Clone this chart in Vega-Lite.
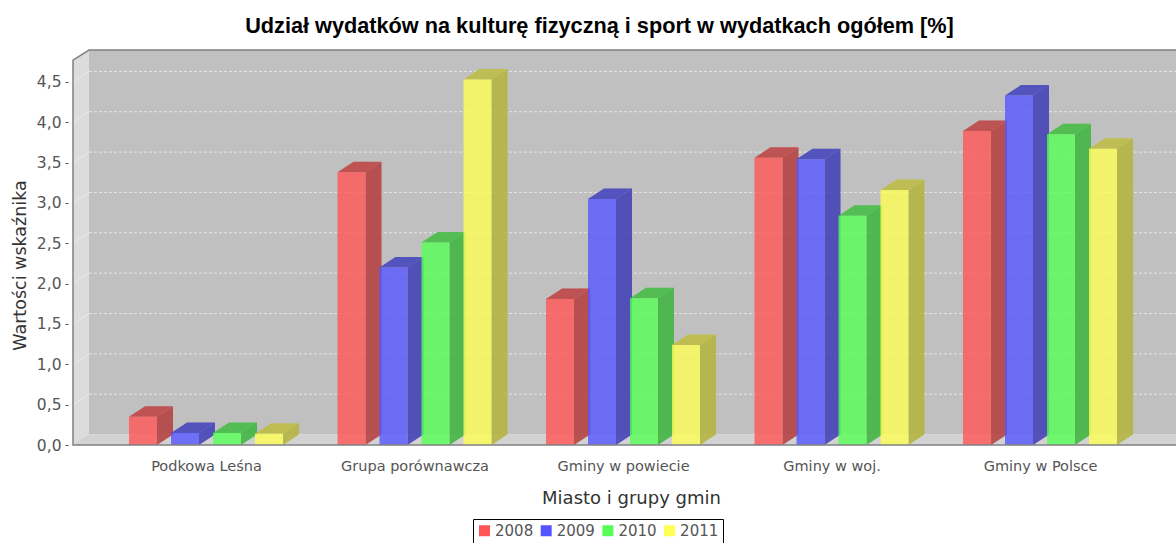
{"$schema":"https://vega.github.io/schema/vega-lite/v6.json","width":1103,"height":395,"autosize":{"type":"none"},"padding":{"left":73,"top":50,"right":0,"bottom":98},"background":"white","view":{"stroke":null},
"title":{"text":"Udział wydatków na kulturę fizyczną i sport w wydatkach ogółem [%]","font":"Liberation Sans","fontSize":21.7,"fontWeight":"bold","color":"#000000","anchor":"middle","frame":"group","dx":-25,"offset":9},
"datasets":{"bars":[
{"group":"Podkowa Leśna","year":"2008","value":0.35},{"group":"Podkowa Leśna","year":"2009","value":0.15},{"group":"Podkowa Leśna","year":"2010","value":0.15},{"group":"Podkowa Leśna","year":"2011","value":0.14},
{"group":"Grupa porównawcza","year":"2008","value":3.38},{"group":"Grupa porównawcza","year":"2009","value":2.2},{"group":"Grupa porównawcza","year":"2010","value":2.51},{"group":"Grupa porównawcza","year":"2011","value":4.53},
{"group":"Gminy w powiecie","year":"2008","value":1.81},{"group":"Gminy w powiecie","year":"2009","value":3.05},{"group":"Gminy w powiecie","year":"2010","value":1.82},{"group":"Gminy w powiecie","year":"2011","value":1.24},
{"group":"Gminy w woj.","year":"2008","value":3.56},{"group":"Gminy w woj.","year":"2009","value":3.54},{"group":"Gminy w woj.","year":"2010","value":2.84},{"group":"Gminy w woj.","year":"2011","value":3.16},
{"group":"Gminy w Polsce","year":"2008","value":3.89},{"group":"Gminy w Polsce","year":"2009","value":4.33},{"group":"Gminy w Polsce","year":"2010","value":3.85},{"group":"Gminy w Polsce","year":"2011","value":3.67}],
"grid":[{"v":0.5},{"v":1},{"v":1.5},{"v":2},{"v":2.5},{"v":3},{"v":3.5},{"v":4},{"v":4.5}],
"frame":[{"k":0},{"k":1},{"k":2},{"k":3},{"k":4}],
"one":[{"part":"wall"}]},
"encoding":{
"x":{"field":"px","type":"quantitative","scale":{"domain":[0,5.29],"nice":false,"zero":false},"title":"Miasto i grupy gmin","axis":{"values":[0.638,1.638,2.638,3.638,4.638],"labelExpr":"['Podkowa Leśna','Grupa porównawcza','Gminy w powiecie','Gminy w woj.','Gminy w Polsce'][round(datum.value-0.638)]","domain":false,"ticks":false,"grid":false,"labelFont":"DejaVu Sans","labelFontSize":14.5,"labelColor":"#555555","labelPadding":14,"labelOverlap":false,"labelFlush":false,"labelBound":false,"titleFont":"DejaVu Sans","titleFontSize":18,"titleFontWeight":"normal","titleColor":"#333333","titleX":558,"titleY":58,"titleBaseline":"alphabetic"}},
"y":{"field":"py","type":"quantitative","scale":{"domain":[0,4.895],"nice":false,"zero":false},"title":"Wartości wskaźnika","axis":{"values":[0,0.5,1,1.5,2,2.5,3,3.5,4,4.5],"labelExpr":"replace(format(datum.value,'.1f'),'.',',')","domain":false,"grid":false,"offset":5,"tickSize":3,"tickColor":"#555555","labelFont":"DejaVu Sans","labelFontSize":15.5,"labelColor":"#555555","labelPadding":4,"titleFont":"DejaVu Sans","titleFontSize":17.5,"titleFontWeight":"normal","titleColor":"#333333","titleX":-39,"titleY":215,"titleAngle":-90}}},
"layer":[
{"data":{"name":"one"},"transform":[{"calculate":"0.0767","as":"px"},{"calculate":"5.29","as":"px2"},{"calculate":"0.13","as":"py"},{"calculate":"4.895","as":"py2"}],"mark":{"type":"rect","fill":"#c0c0c0"},"encoding":{"x2":{"field":"px2"},"y2":{"field":"py2"}}},
{"data":{"name":"one"},"transform":[{"calculate":"0","as":"px"},{"calculate":"5.29","as":"px2"},{"calculate":"0","as":"py"},{"calculate":"0.13","as":"py2"}],"mark":{"type":"rect","fill":"#d2d2d2"},"encoding":{"x2":{"field":"px2"},"y2":{"field":"py2"}}},
{"data":{"name":"one"},"transform":[{"calculate":"[0,1]","as":"k"},{"flatten":["k"]},{"calculate":"datum.k*0.0767","as":"px"},{"calculate":"4.77+datum.k*0.125","as":"py"},{"calculate":"datum.k*0.13","as":"py2"}],"mark":{"type":"area","fill":"#dcdcdc"},"encoding":{"y2":{"field":"py2"}}},
{"data":{"name":"grid"},"transform":[{"calculate":"0.0767","as":"px"},{"calculate":"5.29","as":"px2"},{"calculate":"datum.v+0.13","as":"py"}],"mark":{"type":"rule","stroke":"#ffffff","strokeWidth":1,"strokeDash":[3,2],"opacity":0.6},"encoding":{"x2":{"field":"px2"}}},
{"data":{"name":"grid"},"transform":[{"calculate":"[0,1]","as":"k"},{"flatten":["k"]},{"calculate":"datum.k*0.0767","as":"px"},{"calculate":"datum.v+datum.k*0.13","as":"py"}],"mark":{"type":"line","stroke":"#ffffff","strokeWidth":1,"opacity":0.4},"encoding":{"detail":{"field":"v"}}},
{"data":{"name":"bars"},"transform":[{"calculate":"indexof(['Podkowa Leśna','Grupa porównawcza','Gminy w powiecie','Gminy w woj.','Gminy w Polsce'],datum.group)+0.2686+indexof(['2008','2009','2010','2011'],datum.year)*0.2014+0.1343","as":"xr"},{"calculate":"[0,1]","as":"k"},{"flatten":["k"]},{"calculate":"datum.xr+datum.k*0.0767","as":"px"},{"calculate":"datum.value+datum.k*0.13","as":"py"},{"calculate":"datum.k*0.13","as":"py2"}],"mark":{"type":"area","opacity":0.8},"encoding":{"y2":{"field":"py2"},"detail":{"field":"group"},"color":{"field":"year","type":"nominal"}}},
{"data":{"name":"bars"},"transform":[{"calculate":"indexof(['Podkowa Leśna','Grupa porównawcza','Gminy w powiecie','Gminy w woj.','Gminy w Polsce'],datum.group)+0.2686+indexof(['2008','2009','2010','2011'],datum.year)*0.2014+0.1343","as":"xr"},{"calculate":"[0,1]","as":"k"},{"flatten":["k"]},{"calculate":"datum.xr+datum.k*0.0767","as":"px"},{"calculate":"datum.value+datum.k*0.13","as":"py"},{"calculate":"datum.k*0.13","as":"py2"},{"calculate":"datum.group+datum.year","as":"key"}],"mark":{"type":"area","fill":"#000000","opacity":0.25},"encoding":{"y2":{"field":"py2"},"detail":{"field":"key"}}},
{"data":{"name":"bars"},"transform":[{"calculate":"indexof(['Podkowa Leśna','Grupa porównawcza','Gminy w powiecie','Gminy w woj.','Gminy w Polsce'],datum.group)+0.2686+indexof(['2008','2009','2010','2011'],datum.year)*0.2014","as":"xl"},{"calculate":"[0,1]","as":"k"},{"flatten":["k"]},{"calculate":"datum.xl+datum.k*0.0767","as":"px"},{"calculate":"datum.px+0.1343","as":"px2"},{"calculate":"datum.value+datum.k*0.13","as":"py"}],"mark":{"type":"area","orient":"horizontal","opacity":0.8},"encoding":{"x2":{"field":"px2"},"detail":{"field":"group"},"color":{"field":"year","type":"nominal"}}},
{"data":{"name":"bars"},"transform":[{"calculate":"indexof(['Podkowa Leśna','Grupa porównawcza','Gminy w powiecie','Gminy w woj.','Gminy w Polsce'],datum.group)+0.2686+indexof(['2008','2009','2010','2011'],datum.year)*0.2014","as":"xl"},{"calculate":"[0,1]","as":"k"},{"flatten":["k"]},{"calculate":"datum.xl+datum.k*0.0767","as":"px"},{"calculate":"datum.px+0.1343","as":"px2"},{"calculate":"datum.value+datum.k*0.13","as":"py"},{"calculate":"datum.group+datum.year","as":"key"}],"mark":{"type":"area","orient":"horizontal","fill":"#000000","opacity":0.22},"encoding":{"x2":{"field":"px2"},"detail":{"field":"key"}}},
{"data":{"name":"bars"},"transform":[{"calculate":"indexof(['Podkowa Leśna','Grupa porównawcza','Gminy w powiecie','Gminy w woj.','Gminy w Polsce'],datum.group)+0.2686+indexof(['2008','2009','2010','2011'],datum.year)*0.2014","as":"px"},{"calculate":"datum.px+0.1343","as":"px2"},{"calculate":"datum.value","as":"py"},{"calculate":"0","as":"py2"}],"mark":{"type":"rect","opacity":0.8},"encoding":{"x2":{"field":"px2"},"y2":{"field":"py2"},"color":{"field":"year","type":"nominal","scale":{"domain":["2008","2009","2010","2011"],"range":["#ff5555","#5555ff","#55ff55","#ffff55"]},"legend":{"orient":"none","legendX":400,"legendY":469,"direction":"horizontal","columns":4,"title":null,"symbolType":"square","symbolSize":121,"symbolOpacity":1,"symbolStrokeWidth":0,"labelFont":"DejaVu Sans","labelFontSize":15,"labelColor":"#555555","labelOpacity":1,"strokeColor":"#000000","padding":4,"columnPadding":4.7,"labelOffset":3,"encode":{"symbols":{"update":{"opacity":{"value":1}}}}}}}},
{"data":{"name":"frame"},"transform":[{"calculate":"[5.29,0,0,0.0767,5.29][datum.k]","as":"px"},{"calculate":"[0,0,4.77,4.895,4.895][datum.k]","as":"py"}],"mark":{"type":"line","stroke":"#808080","strokeWidth":1.5},"encoding":{"order":{"field":"k"}}}
]}
